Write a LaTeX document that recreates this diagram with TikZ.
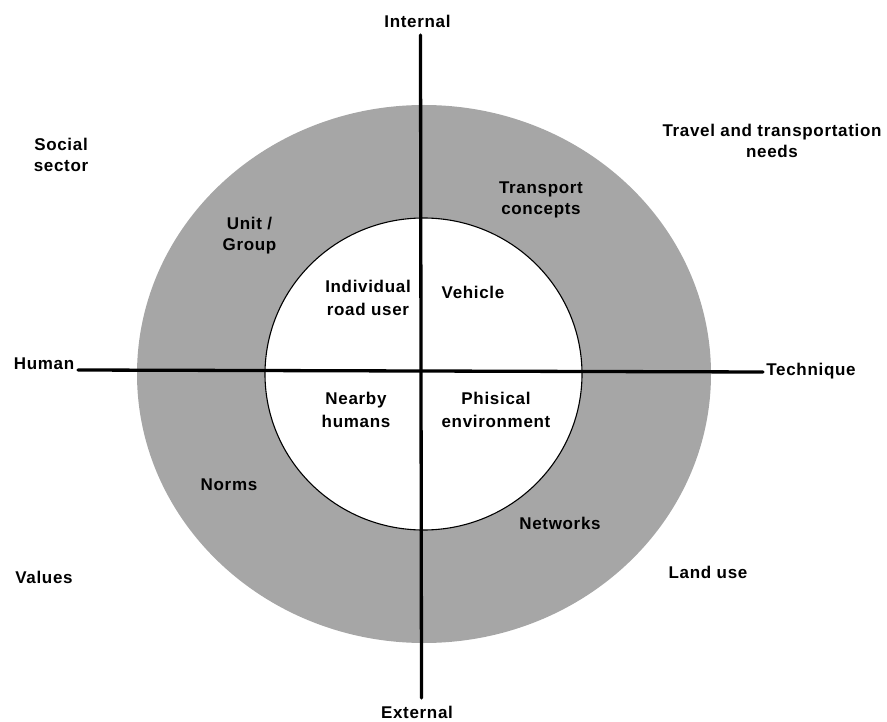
\documentclass[tikz,border=0pt]{standalone}
\usepackage{fontspec}
\setmainfont{Liberation Sans}[LetterSpace=4.0]
\definecolor{ringgray}{RGB}{166,166,166}
\begin{document}
\begin{tikzpicture}[x=1pt,y=-1pt,
  lbl/.style={font=\bfseries\fontsize{17}{21}\selectfont, align=center, inner sep=0pt, anchor=base},
  wide/.style={font=\bfseries\fontsize{17}{23}\selectfont},
  axis/.style={line width=3.3pt, line cap=round}]
\useasboundingbox (0,0) rectangle (887,722);

% outer grey ring and inner white disc
\fill[ringgray] (424,374) ellipse [x radius=287, y radius=269];
\filldraw[fill=white, draw=black, line width=1.1pt] (423.5,374) ellipse [x radius=158.5, y radius=156];

% axes
\coordinate (axtop) at (420.5,35);
\coordinate (axbottom) at (421.5,698);
\coordinate (axleft) at (78,370);
\coordinate (axright) at (763,372);
\draw[axis] (axtop) -- (axbottom);
\draw[axis] (axleft) -- (axright);

% axis labels (anchor base = baseline of the last line)
\node[lbl] (internal) at (417.5,28) {Internal};
\node[lbl] (external) at (417,718.5) {External};
\node[lbl] (human) at (44,370) {Human};
\node[lbl] (technique) at (811,375) {Technique};

% outer labels
\node[lbl] (social) at (61,172) {Social\\sector};
\node[lbl] (travel) at (772,158) {Travel and transportation\\needs};
\node[lbl] (values) at (44,583) {Values};
\node[lbl] (landuse) at (708,578) {Land use};

% ring labels
\node[lbl] (unit) at (249.5,251) {Unit /\\Group};
\node[lbl] (transport) at (541,215) {Transport\\concepts};
\node[lbl] (norms) at (229,490) {Norms};
\node[lbl] (networks) at (560,529) {Networks};

% inner labels
\node[lbl, wide] (individual) at (368,316) {Individual\\road user};
\node[lbl] (vehicle) at (473,299) {Vehicle};
\node[lbl, wide] (nearby) at (356,427) {Nearby\\humans};
\node[lbl, wide] (phisical) at (496,427) {Phisical\\environment};
\end{tikzpicture}
\end{document}
